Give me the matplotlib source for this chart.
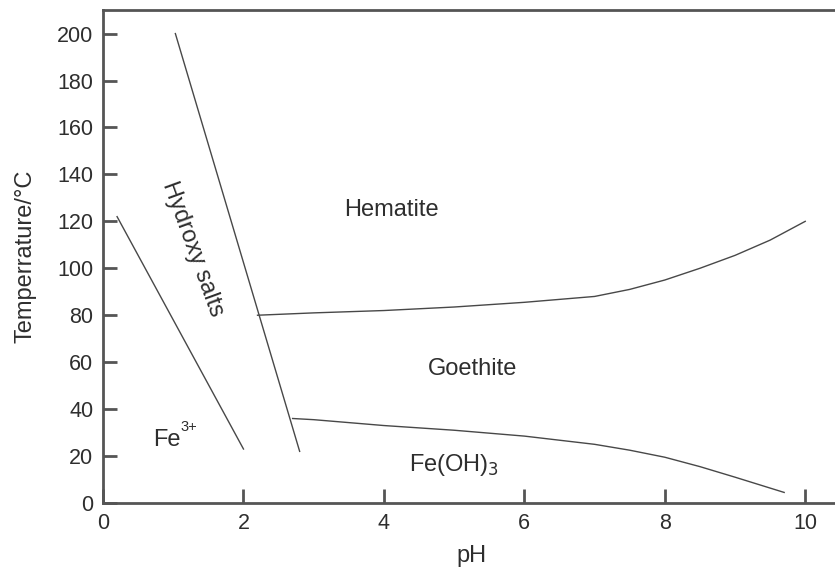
#!/usr/bin/env python3
"""
Phase diagram of iron oxide/hydroxide precipitation: temperature vs pH.
"""

import matplotlib
matplotlib.use("Agg")
import matplotlib.pyplot as plt

# Fe3+ / hydroxy salts boundary
fe3_ph = [0.2, 2.0]
fe3_temp = [122, 23]

# Hydroxy salts / oxide boundary
salts_ph = [1.03, 2.8]
salts_temp = [200, 22]

# Hematite / goethite boundary
hem_ph = [2.2, 3.0, 4.0, 5.0, 6.0, 7.0, 7.5, 8.0, 8.5, 9.0, 9.5, 10.0]
hem_temp = [80, 81, 82, 83.5, 85.5, 88, 91, 95, 100, 105.5, 112, 120]

# Goethite / Fe(OH)3 boundary
goe_ph = [2.7, 3.0, 4.0, 5.0, 6.0, 7.0, 7.5, 8.0, 8.5, 9.0, 9.7]
goe_temp = [36, 35.5, 33, 31, 28.5, 25, 22.5, 19.5, 15.5, 11, 4.5]

plt.rcParams['font.family'] = ['Liberation Sans', 'DejaVu Sans']

fig = plt.figure(figsize=(8.35, 5.74), dpi=100)
ax = fig.add_axes([0.1234, 0.1237, 0.883, 0.8587])

line_color = '#484848'
for px, ty in [(fe3_ph, fe3_temp), (salts_ph, salts_temp),
               (hem_ph, hem_temp), (goe_ph, goe_temp)]:
    ax.plot(px, ty, color=line_color, linewidth=1.0)

text_color = '#2e2e2e'
label_size = 17
ax.text(4.1, 125, "Hematite", fontsize=label_size, color=text_color,
        ha='center', va='center')
ax.text(5.26, 57, "Goethite", fontsize=label_size, color=text_color,
        ha='center', va='center')
ax.text(5.0, 16, r"Fe(OH)$_3$", fontsize=label_size, color=text_color,
        ha='center', va='center')
# Fe3+ with a small, tight superscript
ax.text(0.71, 27, "Fe", fontsize=label_size, color=text_color,
        ha='left', va='center')
ax.annotate("3+", xy=(0.71, 27), xytext=(20, 4), textcoords='offset points',
            fontsize=10.5, color=text_color, ha='left', va='bottom')
ax.text(1.28, 108, "Hydroxy salts", fontsize=label_size, color=text_color,
        ha='center', va='center', rotation=-70)

ax.set_xlim(0, 10.5)
ax.set_ylim(0, 210)
ax.set_xticks([0, 2, 4, 6, 8, 10])
ax.set_yticks(range(0, 201, 20))

ax.tick_params(direction='in', length=10, width=2, colors='#555555',
               labelcolor=text_color, labelsize=15.5, pad=7)
for spine in ax.spines.values():
    spine.set_color('#555555')
    spine.set_linewidth(2)

ax.set_xlabel("pH", fontsize=17, color=text_color, labelpad=8)
ax.set_ylabel("Temperrature/\u00b0C", fontsize=17, color=text_color,
              labelpad=15)

fig.savefig("out.png", dpi=100)
